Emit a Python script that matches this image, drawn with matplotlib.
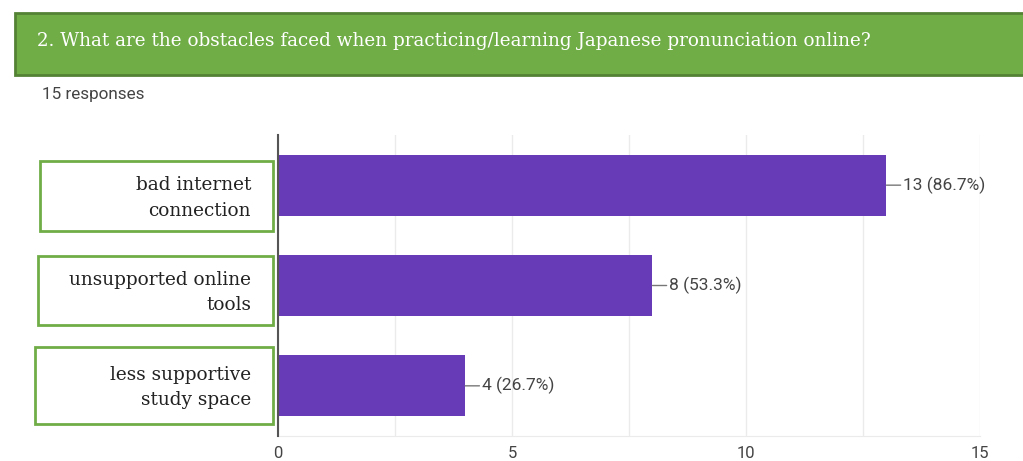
import matplotlib.pyplot as plt
from matplotlib.patches import Rectangle
from matplotlib.ticker import MultipleLocator

W, H = 1023, 461

title = '2. What are the obstacles faced when practicing/learning Japanese pronunciation online?'
responses = '15 responses'
categories = ['bad internet\nconnection', 'unsupported online\ntools', 'less supportive\nstudy space']
counts = [13, 8, 4]
total = 15
xticks = [0, 5, 10, 15]

bar_color = '#673ab7'
green = '#70ad47'
green_dark = '#548235'


def fx(px):
    return px / W


def fy(py):
    return 1 - py / H


fig = plt.figure(figsize=(W / 100, H / 100), dpi=100)

# header banner
fig.patches.append(Rectangle((fx(15), fy(75)), fx(1030) - fx(15), fy(13) - fy(75),
                             transform=fig.transFigure, facecolor=green,
                             edgecolor=green_dark, linewidth=2))
fig.text(fx(37), fy(41), title, color='white', fontsize=13.2,
         family='DejaVu Serif', va='center', ha='left')
fig.text(fx(42), fy(95), responses, color='#444444', fontsize=12.3,
         family='Roboto', va='center', ha='left')

ax = fig.add_axes([fx(278), fy(436), fx(980) - fx(278), fy(135) - fy(436)])
y = list(range(len(categories)))
ax.barh(y, counts, height=0.61, color=bar_color, zorder=3)
ax.set_ylim(len(categories) - 0.5, -0.5)
ax.set_xlim(0, total)
ax.xaxis.set_major_locator(MultipleLocator(5))
ax.xaxis.set_minor_locator(MultipleLocator(2.5))
ax.set_xticks(xticks)
ax.grid(axis='x', which='both', color='#ebebeb', linewidth=1, zorder=0)
ax.tick_params(axis='x', which='both', length=0, pad=7, labelsize=12,
               labelcolor='#444444')
ax.set_yticks([])
for s in ['top', 'right']:
    ax.spines[s].set_visible(False)
ax.spines['bottom'].set_color('#ebebeb')
ax.spines['left'].set_color('#555555')
ax.spines['left'].set_linewidth(1.5)
ax.spines['left'].set_zorder(4)
for lab in ax.get_xticklabels():
    lab.set_family('Roboto')

# value labels with leader lines
for yi, c in zip(y, counts):
    ax.annotate(f'{c} ({c / total * 100:.1f}%)', xy=(c, yi), xytext=(17, 0),
                textcoords='offset pixels', va='center', ha='left',
                fontsize=12.5, color='#444444', family='Roboto',
                arrowprops=dict(arrowstyle='-', color='#777777', lw=1,
                                shrinkA=0, shrinkB=0))

# category label boxes
boxes = [(40, 161, 231), (38, 256, 325), (35, 347, 424)]
for (left, top, bottom), cat in zip(boxes, categories):
    fig.patches.append(Rectangle((fx(left), fy(bottom)), fx(273) - fx(left),
                                 fy(top) - fy(bottom), transform=fig.transFigure,
                                 facecolor='white', edgecolor=green, linewidth=2))
    fig.text(fx(251), fy((top + bottom) / 2 + 2), cat, ha='right', va='center',
             multialignment='right', fontsize=13.3, family='DejaVu Serif',
             color='#222222', linespacing=1.5)

fig.savefig('out.png', dpi=100)
